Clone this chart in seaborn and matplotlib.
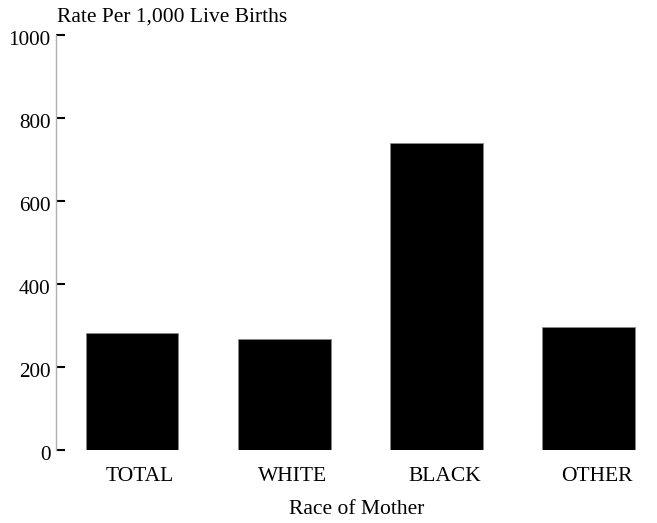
import pandas as pd
import seaborn as sns
import matplotlib.pyplot as plt
import matplotlib.transforms as mtrans

# data
races = ["TOTAL", "WHITE", "BLACK", "OTHER"]
rates = [282, 267, 740, 296]

df = pd.DataFrame({"Race": races, "Rate": rates})

sns.set_style("white")
plt.rcParams['font.family'] = ['Liberation Serif', 'DejaVu Serif']
plt.rcParams['text.color'] = 'black'
plt.rcParams['xtick.color'] = 'black'
plt.rcParams['ytick.color'] = 'black'
plt.rcParams['axes.labelcolor'] = 'black'

fig = plt.figure(figsize=(6.57, 5.23), dpi=100)
ax = fig.add_axes([56/657, 73/523, 1 - 56/657, 415/523])

sns.barplot(x="Race", y="Rate", data=df, color="black", width=0.61,
            saturation=1, ax=ax, edgecolor="#888888", linewidth=0.5)

ax.set_xlim(-0.5, 3.45)
ax.set_ylim(0, 1000)
ax.set_yticks([0, 200, 400, 600, 800, 1000])

for s in ["top", "right", "bottom"]:
    ax.spines[s].set_visible(False)
ax.spines["left"].set_linestyle((0, (1, 1)))
ax.spines["left"].set_color("#b0b0b0")
ax.spines["left"].set_linewidth(1)

ax.tick_params(axis="y", direction="in", length=6.5, width=1.5, color="black",
               labelsize=15.2, pad=4, left=True)
ax.tick_params(axis="x", length=0, labelsize=15.5, pad=12)

# labels in the original sit a little off the tick positions
shift_x = mtrans.ScaledTranslation(8/100, 0, fig.dpi_scale_trans)
for lab in ax.get_xticklabels():
    lab.set_transform(lab.get_transform() + shift_x)
shift_y = mtrans.ScaledTranslation(0, -3/100, fig.dpi_scale_trans)
for lab in ax.get_yticklabels():
    lab.set_transform(lab.get_transform() + shift_y)

ax.set_xlabel("Race of Mother", fontsize=15.5, labelpad=10)
ax.set_ylabel("")
fig.text(57/657, 1 - 17/523, "Rate Per 1,000 Live Births", fontsize=15.5,
         va="center", ha="left")

fig.savefig("out.png", dpi=100)
